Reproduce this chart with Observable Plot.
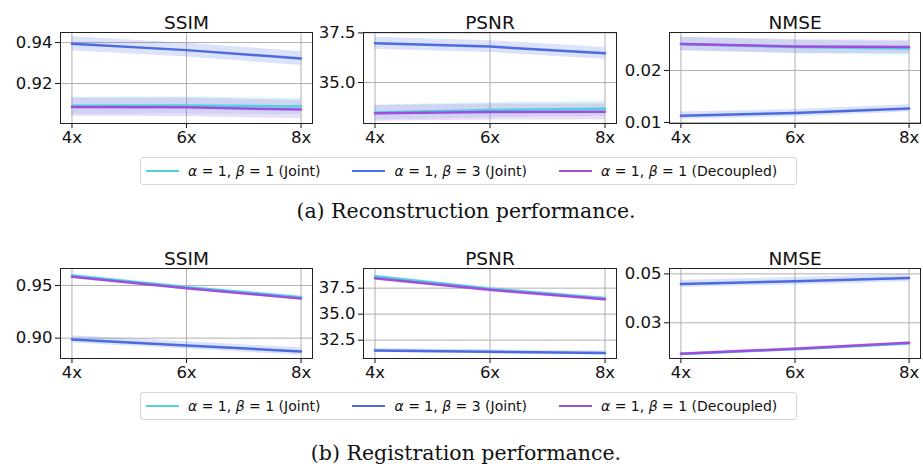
<!DOCTYPE html>
<html><head><meta charset="utf-8">
<script src="https://cdn.jsdelivr.net/npm/d3@7"></script>
<script src="https://cdn.jsdelivr.net/npm/@observablehq/plot@0.6"></script>
<style>
body{margin:0;background:#fff;width:923px;height:470px;position:relative;overflow:hidden;font-family:"DejaVu Sans",sans-serif}
.panel{position:absolute}
.panel svg{overflow:visible;background:transparent}
.legend{position:absolute;left:140px;width:657px;height:28px;border:1px solid #d6d6d6;border-radius:3px;box-sizing:border-box;display:flex;align-items:center;padding-left:5px;font-size:14px;color:#111;gap:32px;white-space:nowrap}
.item{display:flex;align-items:center}
.sw{width:33px;height:2.5px;margin-right:9px}
.caption{position:absolute;left:0;width:932px;text-align:center;font-family:"DejaVu Serif",serif;font-size:20.5px;color:#111}
</style></head>
<body>
<script>
// ---- data ----
const scales = [4, 6, 8];
const scaleLabels = ["4x", "6x", "8x"];
const seriesNames = ["α = 1, β = 1 (Joint)", "α = 1, β = 3 (Joint)", "α = 1, β = 1 (Decoupled)"];
const seriesColors = ["#50d2de", "#4a6ce0", "#9d4edd"];
const metricNames = ["SSIM", "PSNR", "NMSE"];

// Reconstruction: means and std per series [joint11, joint13, decoupled11]
const recSsimMean = [[0.9091, 0.9093, 0.9088], [0.9394, 0.9363, 0.9322], [0.9085, 0.9084, 0.9073]];
const recSsimStd  = [[0.0042, 0.0042, 0.0040], [0.0034, 0.0034, 0.0034], [0.0045, 0.0045, 0.0045]];
const recPsnrMean = [[33.49, 33.62, 33.68], [36.98, 36.81, 36.47], [33.45, 33.52, 33.53]];
const recPsnrStd  = [[0.38, 0.38, 0.38], [0.30, 0.30, 0.30], [0.40, 0.40, 0.40]];
const recNmseMean = [[0.0251, 0.0245, 0.0242], [0.0113, 0.0118, 0.0127], [0.0251, 0.0246, 0.0245]];
const recNmseStd  = [[0.0013, 0.0013, 0.0013], [0.0007, 0.0007, 0.0007], [0.0013, 0.0013, 0.0013]];

// Registration
const regSsimMean = [[0.9595, 0.9484, 0.9389], [0.8988, 0.8931, 0.8874], [0.9583, 0.9474, 0.9376]];
const regSsimStd  = [[0.0015, 0.0015, 0.0015], [0.0035, 0.0035, 0.0035], [0.0015, 0.0015, 0.0015]];
const regPsnrMean = [[38.65, 37.44, 36.53], [31.51, 31.38, 31.26], [38.46, 37.34, 36.43]];
const regPsnrStd  = [[0.15, 0.15, 0.15], [0.20, 0.20, 0.20], [0.20, 0.20, 0.20]];
const regNmseMean = [[0.0172, 0.0192, 0.0215], [0.0459, 0.0470, 0.0483], [0.01735, 0.0194, 0.0218]];
const regNmseStd  = [[0.0004, 0.0004, 0.0004], [0.0015, 0.0015, 0.0015], [0.0005, 0.0005, 0.0005]];

// axis ranges and ticks
const recYDomains = [[0.9005, 0.9449], [32.94, 37.52], [0.0098, 0.0273]];
const recYTicks = [[0.92, 0.94], [35.0, 37.5], [0.01, 0.02]];
const regYDomains = [[0.8807, 0.9661], [30.74, 39.39], [0.0154, 0.0522]];
const regYTicks = [[0.90, 0.95], [32.5, 35.0, 37.5], [0.03, 0.05]];
const yFormats = [".2f", ".1f", ".2f"];

const captions = ["(a) Reconstruction performance.", "(b) Registration performance."];

// ---- layout ----
const cols = [
  {left: 0, width: 320, ml: 60, mr: 8},
  {left: 310, width: 316, ml: 53, mr: 10},
  {left: 612, width: 311, ml: 57, mr: 3}
];
const rows = [
  {top: 0, mt: 32, mb: 27, means: [recSsimMean, recPsnrMean, recNmseMean], stds: [recSsimStd, recPsnrStd, recNmseStd], domains: recYDomains, ticks: recYTicks, legendTop: 157, captionTop: 199},
  {top: 235, mt: 33, mb: 27, means: [regSsimMean, regPsnrMean, regNmseMean], stds: [regSsimStd, regPsnrStd, regNmseStd], domains: regYDomains, ticks: regYTicks, legendTop: 392, captionTop: 441}
];

function tableFor(means, stds) {
  const out = [];
  means.forEach((arr, s) => arr.forEach((m, i) => out.push({series: seriesNames[s], x: scales[i], y: m, lo: m - stds[s][i], hi: m + stds[s][i]})));
  return out;
}

rows.forEach((row, r) => {
  cols.forEach((col, c) => {
    const data = tableFor(row.means[c], row.stds[c]);
    const height = 150;
    const plot = Plot.plot({
      width: col.width, height,
      marginLeft: col.ml, marginRight: col.mr, marginTop: row.mt, marginBottom: row.mb,
      style: {fontFamily: "DejaVu Sans", fontSize: "16.5px", color: "#111", background: "transparent", overflow: "visible"},
      x: {domain: [3.8, 8.2], ticks: scales, tickFormat: (d) => scaleLabels[scales.indexOf(d)], label: null, tickSize: 5, tickPadding: 3},
      y: {domain: row.domains[c], ticks: row.ticks[c], tickFormat: d3.format(yFormats[c]), label: null, tickSize: 5, tickPadding: 3},
      color: {domain: seriesNames, range: seriesColors},
      marks: [
        Plot.gridX(scales, {stroke: "#b0b0b0", strokeOpacity: 1, strokeWidth: 1}),
        Plot.gridY(row.ticks[c], {stroke: "#b0b0b0", strokeOpacity: 1, strokeWidth: 1}),
        Plot.areaY(data, {x: "x", y1: "lo", y2: "hi", fill: "series", fillOpacity: 0.2, z: "series"}),
        Plot.lineY(data, {x: "x", y: "y", stroke: "series", strokeWidth: 2.5, z: "series"}),
        Plot.frame({stroke: "#222", strokeWidth: 1}),
        Plot.text([metricNames[c]], {frameAnchor: "top", dy: -17, fontSize: 18.5, fill: "#111", text: (d) => d})
      ]
    });
    const div = document.createElement("div");
    div.className = "panel";
    div.style.left = col.left + "px";
    div.style.top = row.top + "px";
    div.appendChild(plot);
    document.body.appendChild(div);
  });

  const leg = document.createElement("div");
  leg.className = "legend";
  leg.style.top = row.legendTop + "px";
  seriesNames.forEach((name, i) => {
    const it = document.createElement("div");
    it.className = "item";
    const sw = document.createElement("div");
    sw.className = "sw";
    sw.style.background = seriesColors[i];
    it.appendChild(sw);
    const tx = document.createElement("span");
    tx.innerHTML = name.replace(/([αβ])/g, "<i>$1</i>");
    it.appendChild(tx);
    leg.appendChild(it);
  });
  document.body.appendChild(leg);

  const cap = document.createElement("div");
  cap.className = "caption";
  cap.style.top = row.captionTop + "px";
  cap.textContent = captions[r];
  document.body.appendChild(cap);
});
</script>
</body></html>
